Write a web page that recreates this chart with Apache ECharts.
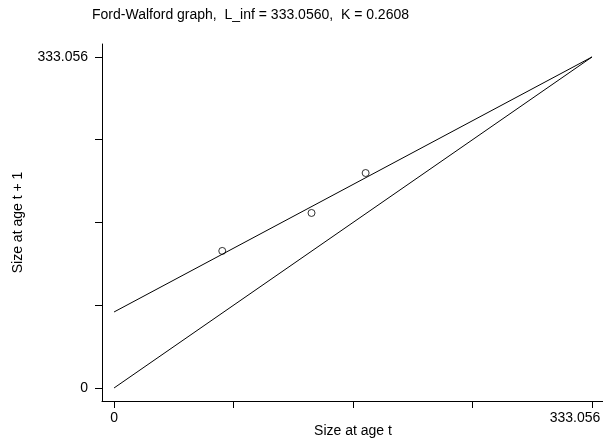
<!DOCTYPE html>
<html>
<head>
<meta charset="utf-8">
<script src="https://cdn.jsdelivr.net/npm/echarts@6/dist/echarts.min.js"></script>
<style>
html, body { margin: 0; padding: 0; background: #fff; }
#chart { width: 603px; height: 442px; }
</style>
</head>
<body>
<div id="chart"></div>
<script>
// observed sizes (t, t+1)
var sizeT = [75.4, 137.6, 175.3];
var sizeT1 = [137.9, 176.1, 216.3];
// fitted Ford-Walford line and the 45 degree line
var fitX = [0, 333.056];
var fitY = [76.47, 333.056];
var diagX = [0, 333.056];
var diagY = [0, 333.056];
var tickValues = [0, 83.264, 166.528, 249.792, 333.056];
var labelValues = [0, 333.056];

var font = 'Liberation Sans, Arial, sans-serif';

function pairs(xs, ys) {
    var out = [];
    for (var i = 0; i < xs.length; i++) {
        out.push([xs[i], ys[i]]);
    }
    return out;
}

function makeAxis(name, gap, rotate, labelMargin, range) {
    return {
        type: 'value',
        min: range[0],
        max: range[1],
        name: name,
        nameLocation: 'middle',
        nameGap: gap,
        nameRotate: rotate,
        nameMoveOverlap: false,
        nameTextStyle: { color: '#000', fontSize: 14, fontFamily: font },
        splitLine: { show: false },
        axisLine: { show: true, onZero: false, lineStyle: { color: '#000', width: 1 } },
        axisTick: { show: true, length: 7, customValues: tickValues, lineStyle: { color: '#000' } },
        axisLabel: {
            customValues: labelValues,
            color: '#000',
            fontSize: 14,
            fontFamily: font,
            margin: labelMargin,
            formatter: function (v) {
                return v === 0 ? '0' : '333.056';
            }
        }
    };
}

var xAxis = makeAxis('Size at age t', 23, 0, 10, [-8.4, 341.4]);
// the right-hand label is pushed left so it stays on the page
xAxis.axisLabel.formatter = function (v) {
    return v === 0 ? '0' : '{r|333.056}';
};
xAxis.axisLabel.rich = { r: { fontSize: 14, fontFamily: font, color: '#000', padding: [0, 34, 0, 0] } };

var chart = echarts.init(document.getElementById('chart'));
var option = {
    animation: false,
    backgroundColor: '#fff',
    title: {
        text: 'Ford-Walford graph,  L_inf = 333.0560,  K = 0.2608',
        left: 87,
        top: 3,
        textStyle: { color: '#000', fontSize: 14, fontWeight: 'normal', fontFamily: font }
    },
    grid: { left: 102, right: -1, top: 44, bottom: 41, outerBoundsMode: 'none', containLabel: false },
    xAxis: xAxis,
    yAxis: makeAxis('Size at age t + 1', 77, 90, 14, [-13.1, 346.1]),
    series: [{
        type: 'line',
        data: pairs(fitX, fitY),
        symbol: 'none',
        lineStyle: { color: '#000', width: 1 }
    }, {
        type: 'line',
        data: pairs(diagX, diagY),
        symbol: 'none',
        lineStyle: { color: '#000', width: 1 }
    }, {
        type: 'scatter',
        data: pairs(sizeT, sizeT1),
        symbol: 'circle',
        symbolSize: 7,
        itemStyle: { color: '#fff', borderColor: '#000', borderWidth: 1 }
    }]
};
chart.setOption(option);
</script>
</body>
</html>
